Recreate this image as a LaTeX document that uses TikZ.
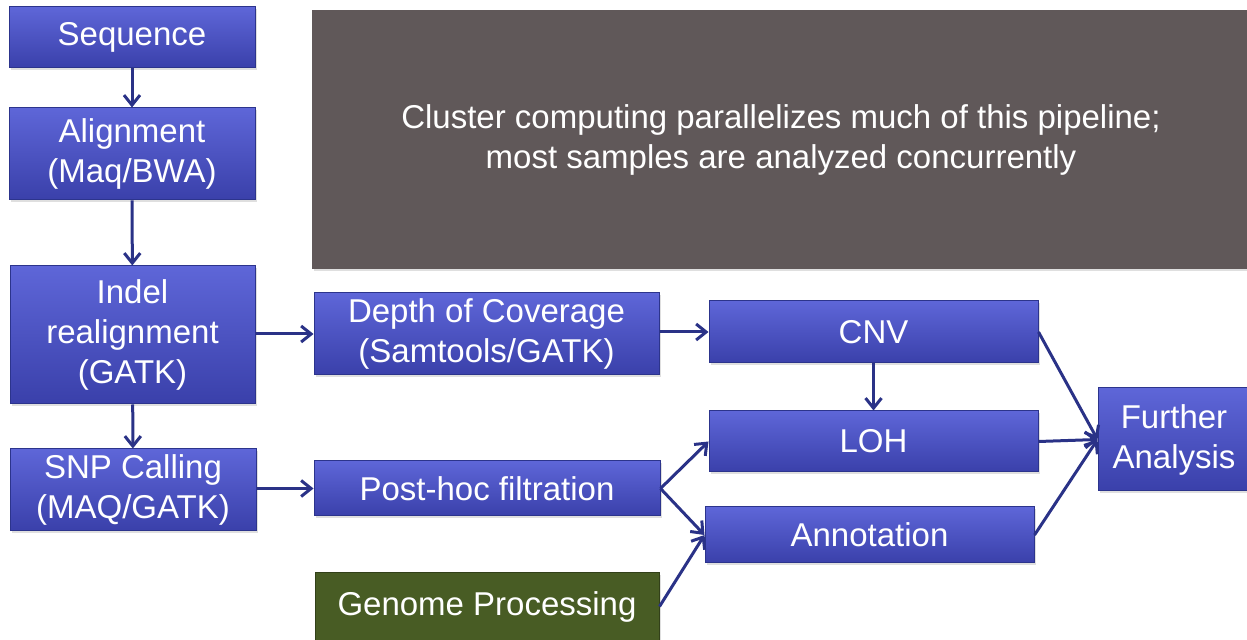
\documentclass[tikz,border=0pt]{standalone}
\usepackage{fontspec}
\setmainfont{Liberation Sans}
\usetikzlibrary{arrows.meta,shadows}

\definecolor{boxtop}{RGB}{94,102,216}
\definecolor{boxbottom}{RGB}{58,64,170}
\definecolor{boxline}{RGB}{44,52,140}
\definecolor{flowarrow}{RGB}{42,50,135}
\definecolor{clustergray}{RGB}{96,88,89}
\definecolor{genomegreen}{RGB}{72,92,36}

\begin{document}
\begin{tikzpicture}[x=0.5pt, y=-0.5pt,
    stage/.style={draw=boxline, line width=0.5pt, top color=boxtop, bottom color=boxbottom,
        text=white, align=center, inner sep=0pt, font=\fontsize{16.5}{20}\selectfont,
        drop shadow={opacity=0.25, shadow xshift=1pt, shadow yshift=-1pt}},
    flow/.style={draw=flowarrow, line width=1.5pt, -{Straight Barb[length=5pt, width=8pt]}}]

    % Page area
    \useasboundingbox (0,0) rectangle (1247,640);

    % Note about cluster computing
    \node[fill=clustergray, text=white, align=center, inner sep=0pt,
        minimum width=469pt, minimum height=129.5pt, font=\fontsize{16.5}{20}\selectfont,
        drop shadow={opacity=0.25, shadow xshift=1pt, shadow yshift=-1pt}]
        (cluster) at (781,139.5) {Cluster computing parallelizes much of this pipeline;\\most samples are analyzed concurrently};

    % Left column: read processing
    \node[stage, minimum width=123pt, minimum height=30.5pt] (seq) at (132,37.5) {Sequence};
    \node[stage, minimum width=123pt, minimum height=46pt] (align) at (132,154) {Alignment\\(Maq/BWA)};
    \node[stage, minimum width=122.5pt, minimum height=69pt] (indel) at (132.5,335) {Indel\\realignment\\(GATK)};
    \node[stage, minimum width=123pt, minimum height=41pt] (snp) at (133,490) {SNP Calling\\(MAQ/GATK)};

    % Middle column
    \node[stage, minimum width=172.5pt, minimum height=41pt] (depth) at (486.5,334) {Depth of Coverage\\(Samtools/GATK)};
    \node[stage, minimum width=173pt, minimum height=27.5pt] (posthoc) at (487,488.5) {Post-hoc filtration};
    \node[stage, fill=genomegreen, top color=genomegreen, bottom color=genomegreen, draw=genomegreen!70!black,
        minimum width=172pt, minimum height=33.5pt] (genome) at (487,606.5) {Genome Processing};

    % Right columns
    \node[stage, minimum width=164.5pt, minimum height=31pt] (cnv) at (873.5,332) {CNV};
    \node[stage, minimum width=164.5pt, minimum height=30.5pt] (loh) at (873.5,441.5) {LOH};
    \node[stage, minimum width=164.5pt, minimum height=28pt] (annot) at (869.5,535) {Annotation};
    \node[stage, minimum width=76pt, minimum height=51.5pt] (further) at (1174,439.5) {Further\\Analysis};

    % Connectors
    \draw[flow] (seq) -- (align);
    \draw[flow] (align) -- (indel);
    \draw[flow] (indel) -- (snp);
    \draw[flow] (indel.east |- depth.west) -- (depth.west);
    \draw[flow] (snp.east |- posthoc.west) -- (posthoc.west);
    \draw[flow] (depth.east |- cnv.west) -- (cnv.west);
    \draw[flow] (cnv) -- (loh);
    \draw[flow] (posthoc.east) -- (loh.west);
    \draw[flow] (posthoc.east) -- (annot.west);
    \draw[flow] (genome.east) -- (annot.west);
    \draw[flow] (cnv.east) -- (further.west);
    \draw[flow] (loh.east) -- (further.west);
    \draw[flow] (annot.east) -- (further.west);
\end{tikzpicture}
\end{document}
